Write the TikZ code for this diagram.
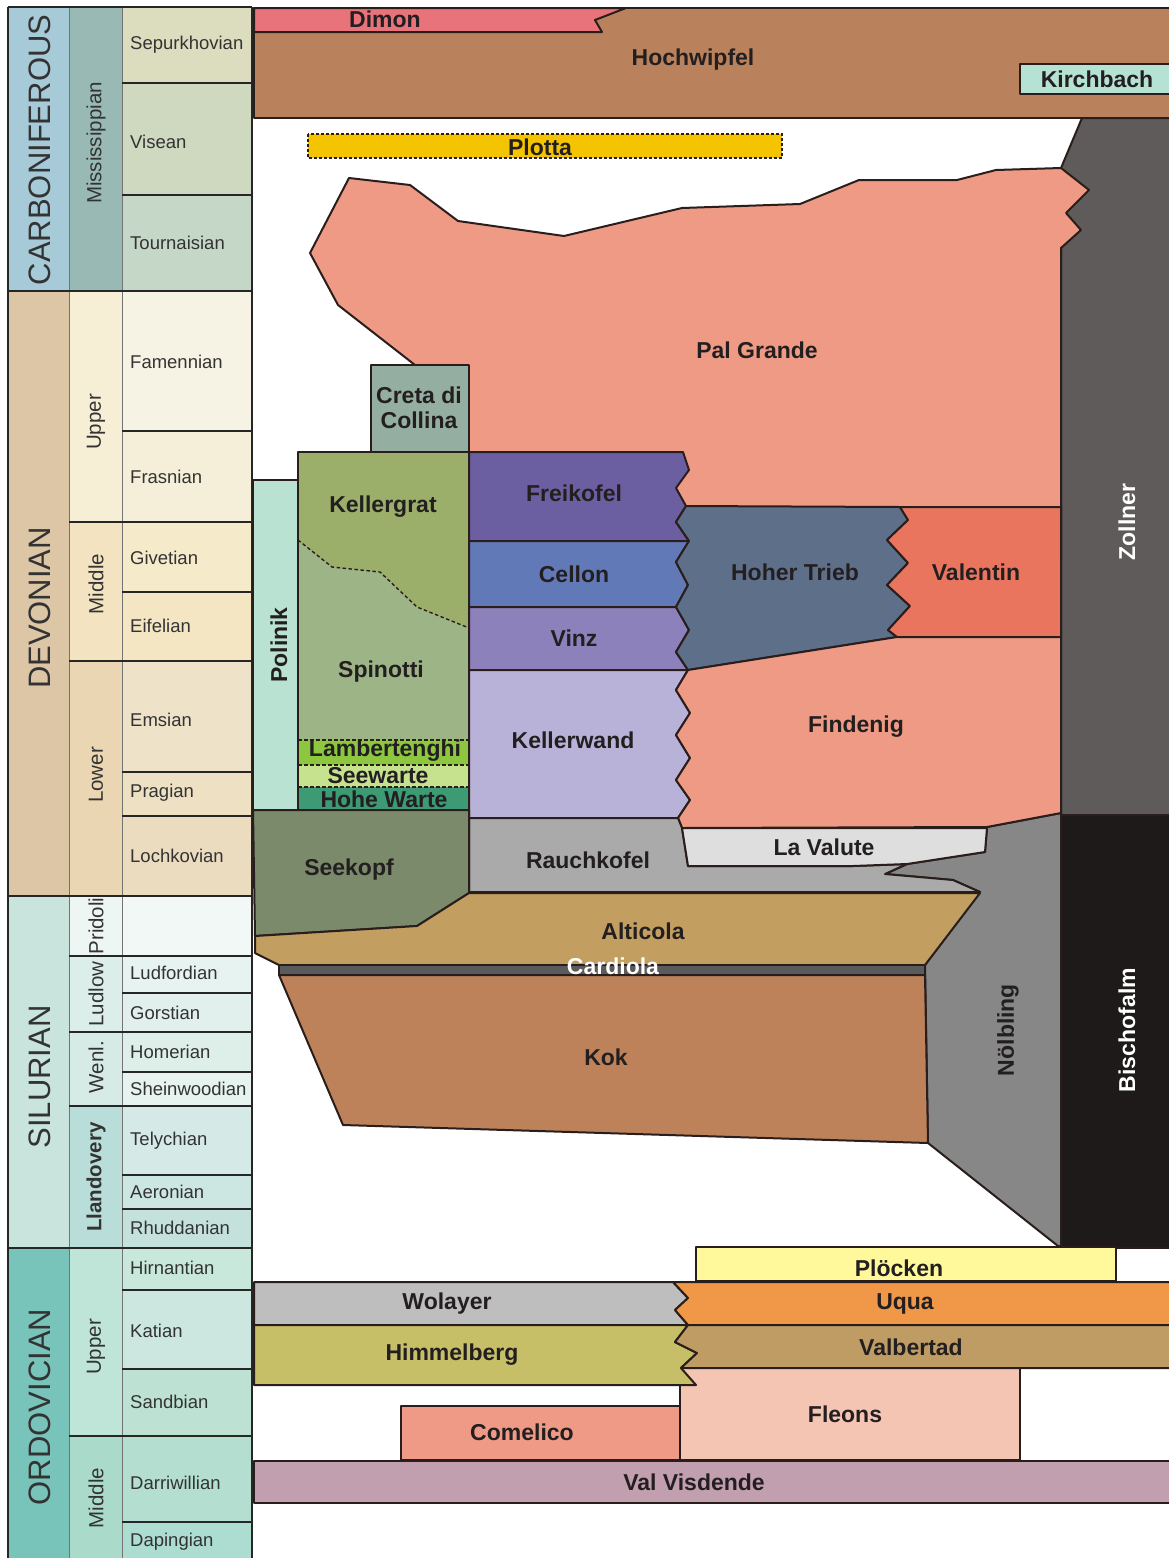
\documentclass[tikz,border=0pt]{standalone}
\usepackage{fontspec}
\setmainfont{Liberation Sans}
% chart colours
\definecolor{lc}{HTML}{2A1E1C}
\definecolor{tc}{HTML}{231F20}
\definecolor{gc}{HTML}{333333}
\definecolor{cCarb}{HTML}{A6CAD8}\definecolor{cMiss}{HTML}{98B9B4}
\definecolor{cSep}{HTML}{DCDCBF}\definecolor{cVis}{HTML}{CFD9C0}\definecolor{cTou}{HTML}{C5D7C6}
\definecolor{cDev}{HTML}{DCC6A6}\definecolor{cUD}{HTML}{F6EED5}\definecolor{cFam}{HTML}{F7F3E4}\definecolor{cFra}{HTML}{F5EFD9}
\definecolor{cMD}{HTML}{F3E3C0}\definecolor{cGiv}{HTML}{F5EACA}\definecolor{cEif}{HTML}{F4E6C2}
\definecolor{cLD}{HTML}{EBD6B3}\definecolor{cEms}{HTML}{EEE3C9}\definecolor{cPra}{HTML}{EDE0C3}\definecolor{cLoc}{HTML}{EBDCC0}
\definecolor{cSil}{HTML}{C8E4DD}\definecolor{cPri}{HTML}{EEF6F3}\definecolor{cPri3}{HTML}{F1F8F6}
\definecolor{cLud}{HTML}{DCEEEA}\definecolor{cLudf}{HTML}{E7F3F0}\definecolor{cGor}{HTML}{E1F0EC}
\definecolor{cWen}{HTML}{D6EBE5}\definecolor{cHom}{HTML}{DEEFE9}\definecolor{cShe}{HTML}{E6F3EF}
\definecolor{cLla}{HTML}{B9DDD8}\definecolor{cTel}{HTML}{D5EAE6}\definecolor{cAer}{HTML}{CCE6E1}\definecolor{cRhu}{HTML}{C4E1DC}
\definecolor{cOrd}{HTML}{78C3BA}\definecolor{cUO}{HTML}{BFE5D8}\definecolor{cHir}{HTML}{C8E8DB}\definecolor{cKat}{HTML}{CBE7E0}\definecolor{cSan}{HTML}{BDE2D4}
\definecolor{cMO}{HTML}{A9DACA}\definecolor{cDar}{HTML}{B4DECF}\definecolor{cDap}{HTML}{ADDCD0}
% formation colours
\definecolor{fDimon}{HTML}{E9737A}\definecolor{fHoch}{HTML}{BA825C}\definecolor{fKirch}{HTML}{B5E2D2}
\definecolor{fPlotta}{HTML}{F5C400}\definecolor{fZoll}{HTML}{5F5B5B}\definecolor{fBisch}{HTML}{1F1A1A}
\definecolor{fNoel}{HTML}{878787}\definecolor{fPal}{HTML}{EE9A85}\definecolor{fCreta}{HTML}{94AEA2}
\definecolor{fPol}{HTML}{B9E2D2}\definecolor{fKgrat}{HTML}{9BAF6B}\definecolor{fSpin}{HTML}{9DB487}
\definecolor{fLamb}{HTML}{8DC63F}\definecolor{fSee}{HTML}{C6E28E}\definecolor{fHohe}{HTML}{3C9A75}
\definecolor{fFrei}{HTML}{6C5FA1}\definecolor{fCell}{HTML}{6279B8}\definecolor{fVinz}{HTML}{8D81BC}
\definecolor{fKwand}{HTML}{B9B2D8}\definecolor{fHT}{HTML}{5E6F8A}\definecolor{fVal}{HTML}{EA755F}
\definecolor{fFind}{HTML}{EE9A85}\definecolor{fLaV}{HTML}{DEDEDE}\definecolor{fRauch}{HTML}{AAAAAA}
\definecolor{fSeek}{HTML}{7B8A6B}\definecolor{fAlt}{HTML}{C29E60}\definecolor{fCard}{HTML}{5B5B5B}
\definecolor{fKok}{HTML}{BD8259}\definecolor{fPloe}{HTML}{FFF99C}\definecolor{fWol}{HTML}{BEBEBE}
\definecolor{fUqua}{HTML}{F09848}\definecolor{fHimm}{HTML}{C7BF68}\definecolor{fValb}{HTML}{BE9C64}
\definecolor{fFle}{HTML}{F5C5B4}\definecolor{fCom}{HTML}{EE9A86}\definecolor{fVV}{HTML}{C29FAF}
\tikzset{
  fm/.style={draw=lc, line width=2pt, line join=round},
  lab/.style={font=\fontsize{23}{26}\selectfont\bfseries, text=tc, inner sep=0pt},
  wlab/.style={lab, text=white},
  stg/.style={font=\fontsize{18.5}{20}\selectfont, text=gc, anchor=west, inner sep=0pt},
  ser/.style={font=\fontsize{20.5}{22}\selectfont, text=gc, rotate=90, inner sep=0pt},
  era/.style={font=\fontsize{31}{33}\selectfont, text=gc, rotate=90, inner sep=0pt},
  thk/.style={line width=2pt, draw=black!85},
  thn/.style={line width=0.8pt, draw=black!55},
  sep/.style={draw=lc, line width=1.4pt, dash pattern=on 3.5pt off 2.5pt},
}
\begin{document}
\begin{tikzpicture}[x=1pt,y=-1pt]
\useasboundingbox (0,0) rectangle (1169,1558);
\fill[white] (0,0) rectangle (1169,1558);

%% ---------- left stratigraphic scale ----------
% column 1 (periods)
\fill[cCarb] (8,7) rectangle (69,291);
\fill[cDev] (8,291) rectangle (69,896);
\fill[cSil] (8,896) rectangle (69,1248);
\fill[cOrd] (8,1248) rectangle (69,1558);
% column 2 (series)
\fill[cMiss] (69,7) rectangle (122,291);
\fill[cUD] (69,291) rectangle (122,522);
\fill[cMD] (69,522) rectangle (122,661);
\fill[cLD] (69,661) rectangle (122,896);
\fill[cPri] (69,896) rectangle (122,956);
\fill[cLud] (69,956) rectangle (122,1032);
\fill[cWen] (69,1032) rectangle (122,1106);
\fill[cLla] (69,1106) rectangle (122,1248);
\fill[cUO] (69,1248) rectangle (122,1436);
\fill[cMO] (69,1436) rectangle (122,1558);
% column 3 (stages)
\fill[cSep] (122,7) rectangle (252,83);
\fill[cVis] (122,83) rectangle (252,195);
\fill[cTou] (122,195) rectangle (252,291);
\fill[cFam] (122,291) rectangle (252,431);
\fill[cFra] (122,431) rectangle (252,522);
\fill[cGiv] (122,522) rectangle (252,592);
\fill[cEif] (122,592) rectangle (252,661);
\fill[cEms] (122,661) rectangle (252,772);
\fill[cPra] (122,772) rectangle (252,816);
\fill[cLoc] (122,816) rectangle (252,896);
\fill[cPri3] (122,896) rectangle (252,956);
\fill[cLudf] (122,956) rectangle (252,993);
\fill[cGor] (122,993) rectangle (252,1032);
\fill[cHom] (122,1032) rectangle (252,1072);
\fill[cShe] (122,1072) rectangle (252,1106);
\fill[cTel] (122,1106) rectangle (252,1175);
\fill[cAer] (122,1175) rectangle (252,1209);
\fill[cRhu] (122,1209) rectangle (252,1248);
\fill[cHir] (122,1248) rectangle (252,1290);
\fill[cKat] (122,1290) rectangle (252,1369);
\fill[cSan] (122,1369) rectangle (252,1436);
\fill[cDar] (122,1436) rectangle (252,1522);
\fill[cDap] (122,1522) rectangle (252,1558);
% grid lines
\draw[thn] (69,7) -- (69,1558);
\draw[thn] (122,7) -- (122,1558);
\foreach \yy in {7,291,896,1248} \draw[thk] (8,\yy) -- (252,\yy);
\foreach \yy in {522,661,956,1032,1106,1436} \draw[thk] (69,\yy) -- (252,\yy);
\foreach \yy in {83,195,431,592,772,816,993,1072,1175,1209,1290,1369,1522} \draw[thk] (122,\yy) -- (252,\yy);
\draw[thk] (8,7) -- (8,1558);
\draw[thk] (252,7) -- (252,1558);
% period labels
\node[era] (eCarb) at (40,150) {CARBONIFEROUS};
\node[era] (eDev) at (40,608) {DEVONIAN};
\node[era] (eSil) at (40,1077) {SILURIAN};
\node[era] (eOrd) at (40,1407) {ORDOVICIAN};
% series labels
\node[ser] (sMiss) at (96,143) {Mississippian};
\node[ser] (sUD) at (96,422) {Upper};
\node[ser] (sMD) at (96,584) {Middle};
\node[ser] (sLD) at (96,775) {Lower};
\node[ser] (sPri) at (96,926) {Pridoli};
\node[ser] (sLud) at (96,994) {Ludlow};
\node[ser] (sWen) at (96,1067) {Wenl.};
\node[ser, font=\fontsize{20.5}{22}\selectfont\bfseries] (sLla) at (96,1177) {Llandovery};
\node[ser] (sUO) at (96,1347) {Upper};
\node[ser] (sMO) at (96,1498) {Middle};
% stage labels
\node[stg] (tSep) at (130,45) {Sepurkhovian};
\node[stg] (tVis) at (130,142) {Visean};
\node[stg] (tTou) at (130,243) {Tournaisian};
\node[stg] (tFam) at (130,362) {Famennian};
\node[stg] (tFra) at (130,477) {Frasnian};
\node[stg] (tGiv) at (130,558) {Givetian};
\node[stg] (tEif) at (130,626) {Eifelian};
\node[stg] (tEms) at (130,720) {Emsian};
\node[stg] (tPra) at (130,793) {Pragian};
\node[stg] (tLoc) at (130,856) {Lochkovian};
\node[stg] (tLudf) at (130,973) {Ludfordian};
\node[stg] (tGor) at (130,1013) {Gorstian};
\node[stg] (tHom) at (130,1052) {Homerian};
\node[stg] (tShe) at (130,1089) {Sheinwoodian};
\node[stg] (tTel) at (130,1141) {Telychian};
\node[stg] (tAer) at (130,1192) {Aeronian};
\node[stg] (tRhu) at (130,1228) {Rhuddanian};
\node[stg] (tHir) at (130,1268) {Hirnantian};
\node[stg] (tKat) at (130,1331) {Katian};
\node[stg] (tSan) at (130,1402) {Sandbian};
\node[stg] (tDar) at (130,1483) {Darriwillian};
\node[stg] (tDap) at (130,1542) {Dapingian};

%% ---------- Carboniferous units ----------
\draw[fm, fill=fHoch] (254,8) -- (1172,8) -- (1172,118) -- (254,118) -- cycle;
\draw[fm, fill=fDimon] (254,8) -- (626,8) -- (595,20) -- (602,32) -- (254,32) -- cycle;
\draw[fm, fill=fKirch] (1020,64) -- (1172,64) -- (1172,94) -- (1020,94) -- cycle;
\draw[fill=fPlotta, draw=lc, line width=1.5pt, dash pattern=on 3pt off 2pt] (308,134) rectangle (782,158);
\node[lab] (nDimon) at (385,19) {Dimon};
\node[lab] (nHoch) at (693,60) {Hochwipfel};
\node[lab] (nKirch) at (1097,79) {Kirchbach};
\node[lab] (nPlotta) at (540,147) {Plotta};

%% ---------- right-hand columns ----------
\draw[fm, fill=fZoll] (1082,118) -- (1172,118) -- (1172,815) -- (1061,815) -- (1061,168) -- cycle;
\draw[fm, fill=fBisch] (1061,815) -- (1172,815) -- (1172,1248) -- (1061,1248) -- cycle;
\draw[fm, fill=fNoel] (1061,813) -- (987,827) -- (985,852) -- (907,864) -- (885,874) -- (953,880)
  -- (980,892) -- (925,965) -- (928,1143) -- (1058,1246) -- (1061,1246) -- cycle;

%% ---------- Pal Grande ----------
\draw[fm, fill=fPal] (349,178) -- (410,185) -- (458,221) -- (564,236) -- (682,208) -- (800,204)
  -- (859,180) -- (957,180) -- (996,170) -- (1061,168) -- (1089,190) -- (1066,213) -- (1081,230)
  -- (1061,248) -- (1061,560) -- (1000,560) -- (780,560) -- (480,470) -- (440,440) -- (415,365)
  -- (338,305) -- (310,253) -- cycle;

%% ---------- central Devonian columns ----------
\draw[fm, fill=fCreta] (371,365) rectangle (469,452);
\draw[fm, fill=fPol] (253,480) rectangle (298,810);
\fill[fSpin] (298,452) rectangle (469,740);
\fill[fKgrat] (298,452) -- (469,452) -- (469,628) -- (417,607) -- (380,572) -- (332,567) -- (298,540) -- cycle;
\draw[sep] (298,540) -- (332,567) -- (380,572) -- (417,607) -- (469,628);
\fill[fLamb] (298,740) rectangle (469,765);
\fill[fSee] (298,765) rectangle (469,787);
\fill[fHohe] (298,787) rectangle (469,810);
\draw[sep] (298,740) -- (469,740);
\draw[sep] (298,765) -- (469,765);
\draw[sep] (298,787) -- (469,787);
\draw[fm] (298,452) rectangle (469,810);

\draw[fm, fill=fFrei] (469,452) -- (683,452) -- (689,470) -- (676,488) -- (686,506) -- (676,522)
  -- (689,541) -- (469,541) -- cycle;
\draw[fm, fill=fCell] (469,541) -- (689,541) -- (676,562) -- (688,585) -- (676,607) -- (469,607) -- cycle;
\draw[fm, fill=fVinz] (469,607) -- (676,607) -- (689,630) -- (676,652) -- (688,670) -- (469,670) -- cycle;
\draw[fm, fill=fKwand] (469,670) -- (688,670) -- (676,690) -- (690,713) -- (676,735) -- (690,758)
  -- (676,780) -- (690,800) -- (678,818) -- (469,818) -- cycle;
\draw[fm, fill=fHT] (686,506) -- (900,507) -- (908,520) -- (887,540) -- (908,563) -- (887,585)
  -- (910,606) -- (888,630) -- (897,637) -- (688,670) -- (676,652) -- (689,630) -- (676,607)
  -- (688,585) -- (676,562) -- (689,541) -- (676,522) -- cycle;
\draw[fm, fill=fVal] (900,507) -- (1061,507) -- (1061,637) -- (897,637) -- (888,630) -- (910,606)
  -- (887,585) -- (908,563) -- (887,540) -- (908,520) -- cycle;
\draw[fm, fill=fFind] (688,670) -- (897,637) -- (1061,637) -- (1061,813) -- (987,827) -- (682,828)
  -- (678,818) -- (690,800) -- (676,780) -- (690,758) -- (676,735) -- (690,713) -- (676,690) -- cycle;

%% ---------- Lochkovian - Silurian units ----------
\draw[fm, fill=fRauch] (469,818) -- (678,818) -- (682,828) -- (688,866) -- (853,866) -- (907,864)
  -- (885,874) -- (953,880) -- (980,892) -- (469,892) -- cycle;
\draw[fm, fill=fLaV] (682,828) -- (987,828) -- (985,852) -- (907,864) -- (853,866) -- (688,866) -- cycle;
\draw[fm, fill=fSeek] (253,810) -- (469,810) -- (469,893) -- (417,926) -- (255,936) -- cycle;
\draw[fm, fill=fAlt] (469,893) -- (980,893) -- (925,965) -- (279,965) -- (255,953) -- (255,936)
  -- (417,926) -- cycle;
\draw[fm, fill=fCard] (279,965) rectangle (925,975);
\draw[fm, fill=fKok] (279,975) -- (925,975) -- (928,1143) -- (343,1125) -- cycle;

\node[lab] (nPal) at (757,350) {Pal Grande};
\node[lab, align=center] (nCreta) at (419,408) {Creta di\\[-1pt]Collina};
\node[lab] (nKgrat) at (383,507) {Kellergrat};
\node[lab] (nSpin) at (381,672) {Spinotti};
\node[lab, rotate=90] (nPol) at (279,645) {Polinik};
\node[lab] (nLamb) at (385,751) {Lambertenghi};
\node[lab] (nSee) at (378,776) {Seewarte};
\node[lab] (nHohe) at (384,799) {Hohe Warte};
\node[lab] (nFrei) at (574,493) {Freikofel};
\node[lab] (nCell) at (574,574) {Cellon};
\node[lab] (nVinz) at (574,638) {Vinz};
\node[lab] (nKwand) at (573,740) {Kellerwand};
\node[lab] (nHT) at (795,572) {Hoher Trieb};
\node[lab] (nVal) at (976,572) {Valentin};
\node[lab] (nFind) at (856,727) {Findenig};
\node[lab] (nLaV) at (824,847) {La Valute};
\node[lab] (nRauch) at (588,860) {Rauchkofel};
\node[lab] (nSeek) at (349,870) {Seekopf};
\node[lab] (nAlt) at (643,931) {Alticola};
\node[wlab] (nCard) at (613,966) {Cardiola};
\node[lab] (nKok) at (606,1057) {Kok};
\node[wlab, rotate=90] (nZoll) at (1127,522) {Zollner};
\node[wlab, rotate=90] (nBisch) at (1127,1030) {Bischofalm};
\node[lab, rotate=90] (nNoel) at (1008,1030) {Nölbling};

%% ---------- Ordovician units ----------
\draw[fm, fill=fPloe] (696,1247) rectangle (1116,1281);
\draw[fm, fill=fFle] (680,1368) rectangle (1020,1460);
\draw[fm, fill=fCom] (401,1406) rectangle (680,1460);
\draw[fm, fill=fWol] (254,1282) -- (673,1282) -- (688,1298) -- (675,1310) -- (688,1325) -- (254,1325) -- cycle;
\draw[fm, fill=fUqua] (673,1282) -- (1172,1282) -- (1172,1325) -- (688,1325) -- (675,1310) -- (688,1298) -- cycle;
\draw[fm, fill=fHimm] (254,1325) -- (688,1325) -- (675,1342) -- (697,1353) -- (681,1368) -- (696,1385)
  -- (254,1385) -- cycle;
\draw[fm, fill=fValb] (688,1325) -- (1172,1325) -- (1172,1368) -- (681,1368) -- (697,1353) -- (675,1342) -- cycle;
\draw[fm, fill=fVV] (254,1461) rectangle (1172,1503);

\node[lab] (nPloe) at (899,1268) {Plöcken};
\node[lab] (nWol) at (447,1304) {Wolayer};
\node[lab] (nUqua) at (905,1304) {Uqua};
\node[lab] (nHimm) at (452,1355) {Himmelberg};
\node[lab] (nValb) at (911,1347) {Valbertad};
\node[lab] (nFle) at (845,1414) {Fleons};
\node[lab] (nCom) at (522,1432) {Comelico};
\node[lab] (nVV) at (694,1482) {Val Visdende};
\end{tikzpicture}
\end{document}
